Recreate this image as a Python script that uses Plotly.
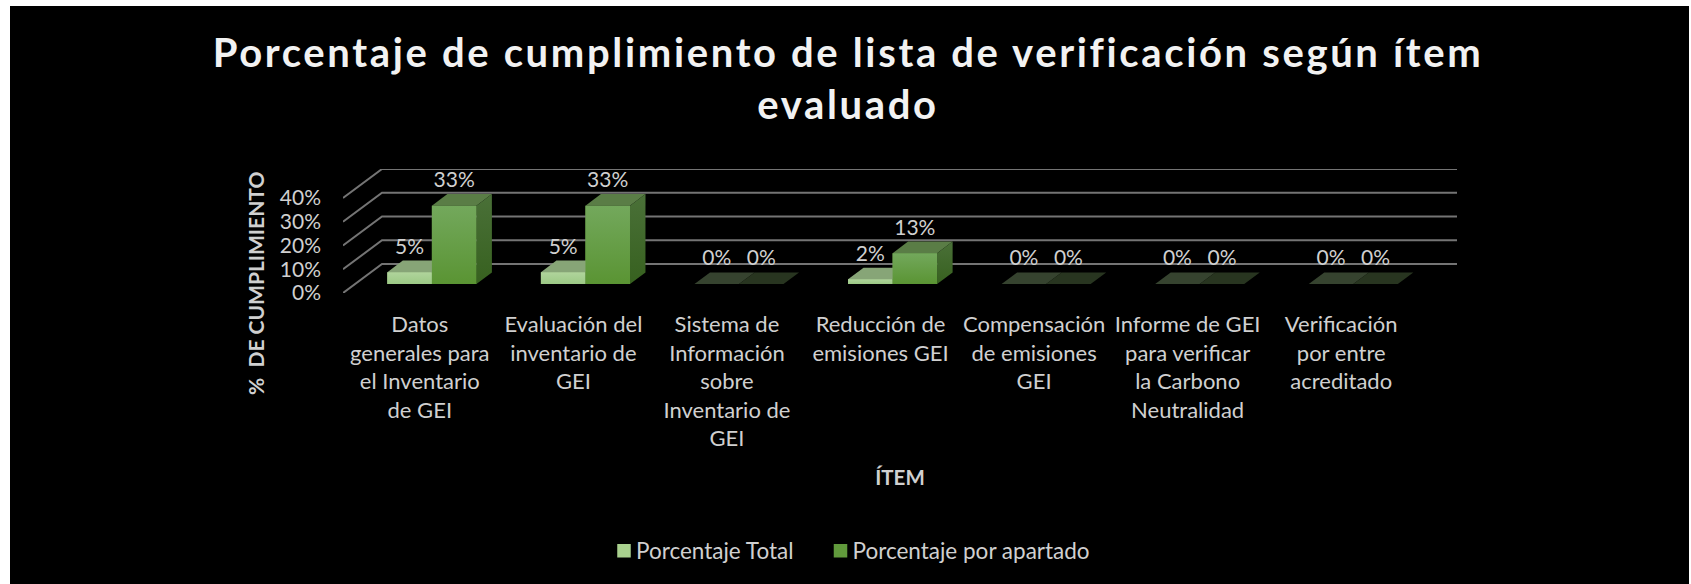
import plotly.graph_objects as go

categories = ["Datos<br>generales para<br>el Inventario<br>de GEI", "Evaluación del<br>inventario de<br>GEI",
              "Sistema de<br>Información<br>sobre<br>Inventario de<br>GEI", "Reducción de<br>emisiones GEI",
              "Compensación<br>de emisiones<br>GEI", "Informe de GEI<br>para verificar<br>la Carbono<br>Neutralidad",
              "Verificación<br>por entre<br>acreditado"]
porcentaje_total = [5, 5, 0, 2, 0, 0, 0]
porcentaje_apartado = [33, 33, 0, 13, 0, 0, 0]
y_ticks = [0, 10, 20, 30, 40]

W, H = 1691, 584
FONT = "Lato"
TXT = "#d0d0d0"
# oblique projection, in axis units
DX, DY = 0.254, 12.21
D0, D1 = 0.31, 0.707
BW = 0.29
XMAX = 6.5 + DX
YMAX = 52.21

LIGHT = dict(front=["#9cc985", "#b0d49c"], top="#87a577", side=["#6e8d5c", "#86a472"], zero="#36432f")
DARK = dict(front=["#5a9433", "#73a85c"], top="#5a7d46", side=["#37611f", "#4a7038"], zero="#283520")


def poly(xs, ys, color=None, grad=None):
    kw = dict(fillcolor=color) if color else dict(fillgradient=dict(type="vertical", colorscale=[[0, grad[0]], [1, grad[1]]]))
    return go.Scatter(x=xs, y=ys, mode="lines", fill="toself", line=dict(width=0), showlegend=False, hoverinfo="skip", **kw)


def box_faces(x0, x1, v, style):
    base = D0 * DY
    ox, oy = (D1 - D0) * DX, (D1 - D0) * DY
    top = v + base
    out = []
    out.append(poly([x0, x1, x1 + ox, x0 + ox, x0], [top, top, top + oy, top + oy, top], color=style["top"] if v else style["zero"]))
    if v:
        out.append(poly([x1, x1 + ox, x1 + ox, x1, x1], [base, base + oy, top + oy, top, base], grad=style["side"]))
        out.append(poly([x0, x1, x1, x0, x0], [base, base, top, top, base], grad=style["front"]))
    return out


fig = go.Figure()
centers = [i + D0 * DX for i in range(len(categories))]

# front faces as bars (carry the legend)
fig.add_trace(go.Bar(x=[c - BW / 2 for c in centers], y=porcentaje_total, width=BW, base=D0 * DY,
                     name="Porcentaje Total", marker=dict(color="#a9d18e", line=dict(width=0)), hoverinfo="skip"))
fig.add_trace(go.Bar(x=[c + BW / 2 for c in centers], y=porcentaje_apartado, width=BW, base=D0 * DY,
                     name="Porcentaje por apartado", marker=dict(color="#619a3c", line=dict(width=0)), hoverinfo="skip"))

# wall and side grid
for t in y_ticks:
    fig.add_trace(go.Scatter(x=[-0.5, -0.5 + DX, XMAX], y=[t, t + DY, t + DY], mode="lines",
                             line=dict(color="#747474", width=2), showlegend=False, hoverinfo="skip"))

# 3D bodies
for c, a, b in zip(centers, porcentaje_total, porcentaje_apartado):
    for tr in box_faces(c - BW, c, a, LIGHT):
        fig.add_trace(tr)
    for tr in box_faces(c, c + BW, b, DARK):
        fig.add_trace(tr)

# value labels
LABEL_UP = 5.2
for vals, shift in ((porcentaje_total, -BW / 2), (porcentaje_apartado, BW / 2)):
    fig.add_trace(go.Scatter(x=[c + shift for c in centers], y=[v + D1 * DY + LABEL_UP for v in vals], mode="text",
                             text=[f"{v}%" for v in vals], textposition="middle center",
                             textfont=dict(family=FONT, size=21, color=TXT), showlegend=False, hoverinfo="skip", cliponaxis=False))

fig.update_layout(
    width=W, height=H, autosize=False,
    margin=dict(l=0, r=0, t=0, b=0, autoexpand=False),
    paper_bgcolor="white", plot_bgcolor="rgba(0,0,0,0)",
    barmode="overlay",
    font=dict(family=FONT, color=TXT, size=21),
    title=dict(text="Porcentaje de cumplimiento de lista de verificación según ítem<br>evaluado",
               x=848 / W, xanchor="center", y=1 - 67 / H, yanchor="middle",
               font=dict(family=FONT, size=40, weight="bold", color="#f2f2f2")),
    xaxis=dict(domain=[343 / W, 1457 / W], range=[-0.5, XMAX], tickmode="array", tickvals=list(range(7)),
               ticktext=categories, tickangle=0, showgrid=False, zeroline=False, showline=False, ticks="",
               ticklabelstandoff=16, tickfont=dict(family=FONT, size=22, color=TXT),
               title=dict(text="<b>ÍTEM</b>", font=dict(family=FONT, size=20.5, color=TXT), standoff=20)),
    yaxis=dict(domain=[1 - 293 / H, 1 - 169 / H], range=[0, YMAX], tickmode="array", tickvals=y_ticks,
               ticktext=[f"{t}%" for t in y_ticks], showgrid=False, zeroline=False, showline=False, ticks="",
               ticklabelstandoff=21, tickfont=dict(family=FONT, size=21, color=TXT)),
    legend=dict(orientation="h", x=604 / W, xanchor="left", y=1 - 551 / H, yanchor="middle",
                font=dict(family=FONT, size=22.5, color=TXT), bgcolor="rgba(0,0,0,0)", traceorder="normal"),
    shapes=[dict(type="rect", xref="paper", yref="paper", x0=10 / W, x1=1689 / W, y0=0, y1=1 - 6 / H,
                 fillcolor="black", line=dict(width=0), layer="below")],
    annotations=[dict(text="<b>%  DE CUMPLIMIENTO</b>", xref="paper", yref="paper", x=255 / W, y=1 - 283 / H,
                      textangle=-90, showarrow=False, xanchor="center", yanchor="middle",
                      font=dict(family=FONT, size=21, color=TXT))],
)

post = """
document.body.style.margin='0';
document.body.style.overflow='hidden';
document.querySelectorAll('.gtitle').forEach(function(e){e.style.letterSpacing='2.65px';});
document.querySelectorAll('.legend .legendtext').forEach(function(e){e.setAttribute('x', parseFloat(e.getAttribute('x'))-8);});
document.querySelectorAll('.legend .scrollbox').forEach(function(e){e.removeAttribute('clip-path');});
document.querySelectorAll('.legend .legendpoints path').forEach(function(e){e.style.stroke=e.style.fill;e.style.strokeWidth='1.5px';e.style.strokeOpacity='1';});
var trs=document.querySelectorAll('.legend .traces');
if(trs.length>1){var m=/translate\\(([-\\d.]+),\\s*([-\\d.]+)\\)/.exec(trs[1].getAttribute('transform'));
 if(m){trs[1].setAttribute('transform','translate('+(parseFloat(m[1])+14)+','+m[2]+')');}}
"""
fig.write_html("out.html", post_script=post, config=dict(displayModeBar=False, responsive=False))
